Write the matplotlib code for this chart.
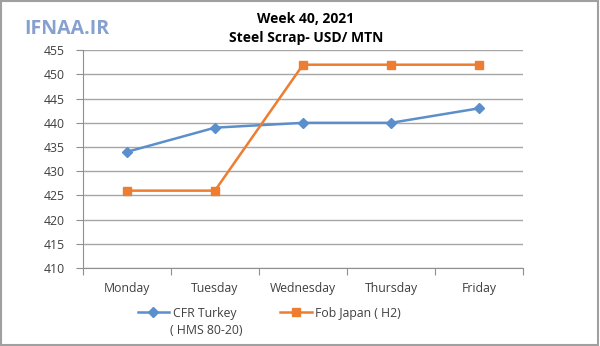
import matplotlib.pyplot as plt
from matplotlib.patches import Rectangle

days = ['Monday', 'Tuesday', 'Wednesday', 'Thursday', 'Friday']
cfr_turkey = [434, 439, 440, 440, 443]
fob_japan = [426, 426, 452, 452, 452]
yticks = list(range(410, 456, 5))

plt.rcParams['font.family'] = ['Open Sans', 'DejaVu Sans']

fig = plt.figure(figsize=(6, 3.46), dpi=100)
ax = fig.add_axes([0.138, 0.225, 0.734, 0.63])

x = range(len(days))
ax.plot(x, cfr_turkey, color='#5b8fcb', lw=1.8, marker='D', ms=5,
        label='CFR Turkey')
ax.plot(x, fob_japan, color='#ed7d31', lw=1.8, marker='s', ms=6,
        label='Fob Japan ( H2)')

ax.set_xlim(-0.5, 4.5)
ax.set_ylim(410, 455)
ax.set_yticks(yticks)
ax.set_xticks([i + 0.5 for i in range(-1, 5)], minor=False)
ax.set_xticklabels([])
ax.set_xticks(list(x), minor=True)
ax.set_xticklabels(days, minor=True)
ax.tick_params(axis='x', which='minor', length=0, pad=10, labelsize=8.8, colors='#404040')
ax.tick_params(axis='x', which='major', length=5, color='#909090', direction='out')
ax.tick_params(axis='y', length=5, color='#909090', labelsize=8.8, labelcolor='#404040', pad=8)
ax.grid(axis='y', color='#a6a6a6', lw=1)
ax.set_axisbelow(True)
for s in ['top', 'right']:
    ax.spines[s].set_visible(False)
for s in ['left', 'bottom']:
    ax.spines[s].set_color('#909090')

fig.text(0.51, 0.945, 'Week 40, 2021', ha='center', va='center', fontsize=10, fontweight='bold')
fig.text(0.51, 0.89, 'Steel Scrap- USD/ MTN', ha='center', va='center', fontsize=10, fontweight='bold')
fig.text(0.04, 0.915, 'IFNAA.IR', ha='left', va='center', fontsize=14, color='#86a0cf', fontweight='bold')

ax.legend(loc='center left', bbox_to_anchor=(0.211, 0.095), bbox_transform=fig.transFigure,
          ncol=2, frameon=False, fontsize=8.8, handlelength=2.6, columnspacing=3.55,
          handletextpad=0.3, labelcolor='#404040')
fig.text(0.283, 0.046, '( HMS 80-20)', ha='left', va='center', fontsize=8.8, color='#404040')

fig.patches.append(Rectangle((0.002, 0.003), 0.995, 0.994, transform=fig.transFigure,
                             fill=False, edgecolor='#a0a0a0', lw=1.5))

plt.savefig('out.png')
